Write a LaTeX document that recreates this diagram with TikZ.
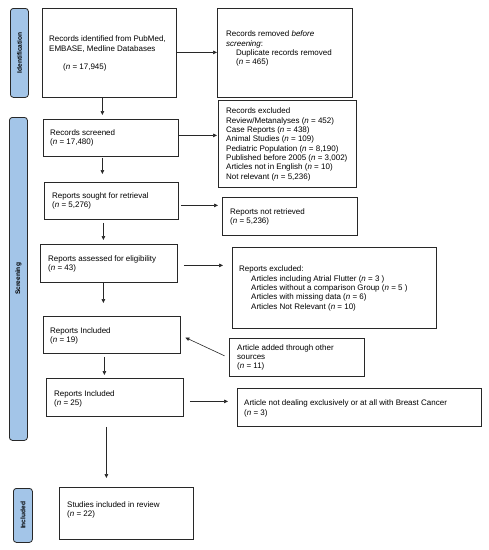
\documentclass[tikz,border=0pt]{standalone}
\usepackage{fontspec}
\setmainfont{Liberation Sans}
\usetikzlibrary{arrows.meta}
\definecolor{lblue}{RGB}{163,197,232}
\definecolor{lnk}{RGB}{40,40,40}
\begin{document}
\begin{tikzpicture}[x=1pt,y=-1pt,
  box/.style={draw=lnk, line width=0.8pt, inner sep=0pt, anchor=north west},
  phase/.style={draw=lnk, line width=0.8pt, fill=lblue, rounded corners=3pt, inner sep=0pt, anchor=north west},
  phasetxt/.style={rotate=90, font=\fontsize{6.6}{8}\selectfont\bfseries, inner sep=0pt},
  txt/.style={anchor=north west, inner sep=0pt, yshift=5.9pt, align=left, font=\fontsize{8}{9.3}\selectfont},
  arr/.style={draw=lnk, line width=0.6pt, -{Triangle[length=4pt,width=3.6pt]}}
]
\useasboundingbox[fill=white] (0,0) rectangle (489,550);
\newcommand{\nn}{\textit{n}}
% phase labels
\node[phase, minimum width=18pt, minimum height=89pt] (pid) at (10,8) {};
\node[phasetxt] (pidt) at (pid.center) {Identification};
\node[phase, minimum width=18pt, minimum height=323pt] (psc) at (9,117) {};
\node[phasetxt] (psct) at (psc.center) {Screening};
\node[phase, minimum width=19pt, minimum height=54pt] (pin) at (13,488) {};
\node[phasetxt] (pint) at (pin.center) {Included};
% boxes
\node[box, minimum width=134pt, minimum height=89pt] (A) at (42,8) {};
\node[box, minimum width=135pt, minimum height=89pt] (B) at (217,8) {};
\node[box, minimum width=135pt, minimum height=37pt] (C) at (43,119) {};
\node[box, minimum width=138pt, minimum height=87pt] (D) at (218,100) {};
\node[box, minimum width=134pt, minimum height=37pt] (E) at (44,182) {};
\node[box, minimum width=135pt, minimum height=38pt] (F) at (222,197) {};
\node[box, minimum width=137pt, minimum height=38pt] (G) at (40,244) {};
\node[box, minimum width=204pt, minimum height=81pt] (H) at (232,247) {};
\node[box, minimum width=137pt, minimum height=37pt] (I) at (43,316) {};
\node[box, minimum width=135pt, minimum height=38pt] (J) at (229,338) {};
\node[box, minimum width=137pt, minimum height=38pt] (K) at (46,378) {};
\node[box, minimum width=244pt, minimum height=38pt] (L) at (237,388) {};
\node[box, minimum width=134pt, minimum height=52pt] (M) at (59,487) {};
% texts
\node[txt] (At) at (49,41.8) {Records identified from PubMed,\\EMBASE, Medline Databases\\[9.3pt]\hspace*{14pt}(\nn{} = 17,945)};
\node[txt] (Bt) at (226,36.8) {Records removed \textit{before}\\\textit{screening}:\\\hspace*{10pt}Duplicate records removed\\\hspace*{10pt}(\nn{} = 465)};
\node[txt] (Ct) at (50,135.5) {Records screened\\(\nn{} = 17,480)};
\node[txt] (Dt) at (226,113.8) {Records excluded\\Review/Metanalyses (\nn{} = 452)\\Case Reports (\nn{} = 438)\\Animal Studies (\nn{} = 109)\\Pediatric Population (\nn{} = 8,190)\\Published before 2005 (\nn{} = 3,002)\\Articles not in English (\nn{} = 10)\\Not relevant (\nn{} = 5,236)};
\node[txt] (Et) at (52,198.5) {Reports sought for retrieval\\(\nn{} = 5,276)};
\node[txt] (Ft) at (230,214.5) {Reports not retrieved\\(\nn{} = 5,236)};
\node[txt] (Gt) at (48,261.1) {Reports assessed for eligibility\\(\nn{} = 43)};
\node[txt] (Ht) at (239,271.8) {Reports excluded:\\\hspace*{12pt}Articles including Atrial Flutter (\nn{} = 3 )\\\hspace*{12pt}Articles without a comparison Group (\nn{} = 5 )\\\hspace*{12pt}Articles with missing data (\nn{} = 6)\\\hspace*{12pt}Articles Not Relevant (\nn{} = 10)};
\node[txt] (It) at (50,333.5) {Reports Included\\(\nn{} = 19)};
\node[txt] (Jt) at (237,350.1) {Article added through other\\sources\\(\nn{} = 11)};
\node[txt] (Kt) at (54,396.1) {Reports Included\\(\nn{} = 25)};
\node[txt] (Lt) at (244,405.8) {Article not dealing exclusively or at all with Breast Cancer\\(\nn{} = 3)};
\node[txt] (Mt) at (67,507.1) {Studies included in review\\(\nn{} = 22)};
% connectors
\draw[arr] ([yshift=0.5pt]A.east) -- ([yshift=0.5pt]A.east -| B.west);
\draw[arr, shorten <=0pt, shorten >=1pt] ([yshift=2.5pt]C.east) -- ([yshift=2.5pt]C.east -| D.west);
\draw[arr, shorten <=2pt, shorten >=4pt] ([yshift=-4.5pt]E.east) -- ([yshift=-4.5pt]E.east -| F.west);
\draw[arr, shorten <=6pt, shorten >=9pt] ([yshift=-2pt]G.east) -- ([yshift=-2pt]G.east -| H.west);
\draw[arr, shorten <=6pt, shorten >=9pt] ([yshift=-4pt]K.east) -- ([yshift=-4pt]K.east -| L.west);
\draw[arr, shorten >=4pt] ([xshift=-7pt]A.south) -- ([xshift=-7pt]A.south |- C.north);
\draw[arr, shorten <=1pt, shorten >=8pt] ([xshift=-8.5pt]C.south) -- ([xshift=-8.5pt]C.south |- E.north);
\draw[arr, shorten <=3pt, shorten >=4pt] ([xshift=-8pt]E.south) -- ([xshift=-8pt]E.south |- G.north);
\draw[arr, shorten <=0pt, shorten >=13pt] ([xshift=-5.5pt]G.south) -- ([xshift=-5.5pt]G.south |- I.north);
\draw[arr, shorten <=3pt, shorten >=3pt] ([xshift=-7.5pt]I.south) -- ([xshift=-7.5pt]I.south |- K.north);
\draw[arr, shorten <=10pt, shorten >=9pt] ([xshift=-8.5pt]K.south) -- ([xshift=-8.5pt]K.south |- M.north);
\draw[arr, shorten <=5pt, shorten >=5pt] ([yshift=-0.5pt]J.west) -- ([yshift=-0.5pt]I.east);
\end{tikzpicture}
\end{document}
